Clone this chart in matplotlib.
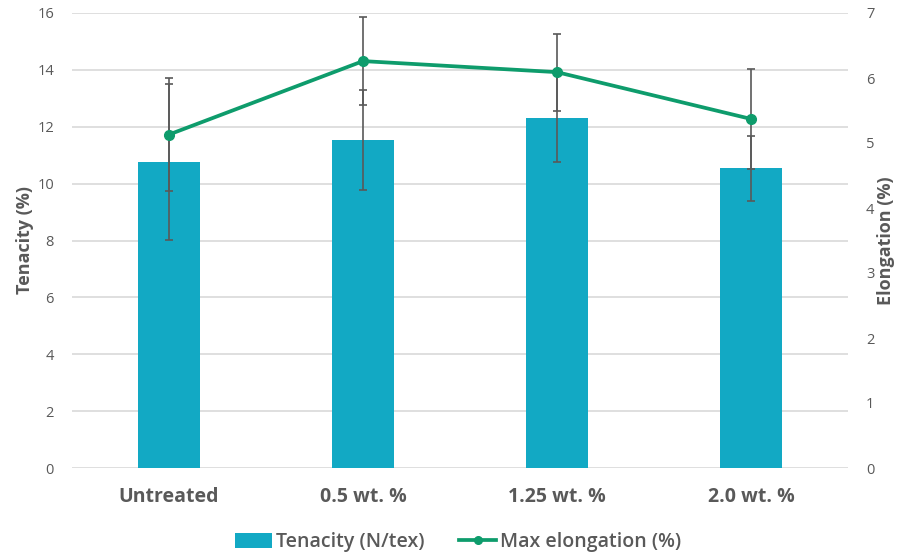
import matplotlib
matplotlib.use("Agg")
import matplotlib.pyplot as plt
from matplotlib.patches import Patch
from matplotlib.lines import Line2D

categories = ["Untreated", "0.5 wt. %", "1.25 wt. %", "2.0 wt. %"]
tenacity = [10.76, 11.54, 12.30, 10.54]
tenacity_err = [2.74, 1.75, 1.54, 1.14]
elongation = [5.13, 6.26, 6.09, 5.37]
elongation_err = [0.87, 0.68, 0.59, 0.77]

plt.rcParams['font.family'] = ['Open Sans', 'DejaVu Sans']

BAR = "#12A9C4"
LINE = "#0E9C6C"
GRAY = "#595959"

fig = plt.figure(figsize=(9.11, 5.53), dpi=100)
ax = fig.add_axes([72/911, 85/553, 776/911, 455/553])
ax2 = ax.twinx()

x = list(range(len(categories)))
ax.bar(x, tenacity, width=0.315, color=BAR, zorder=2)
ax.errorbar(x, tenacity, yerr=tenacity_err, fmt='none', ecolor=GRAY,
            elinewidth=1.2, capsize=3, capthick=1.2, zorder=3)

ax2.errorbar(x, elongation, yerr=elongation_err, fmt='none', ecolor=GRAY,
             elinewidth=1.2, capsize=3, capthick=1.2, zorder=3)
ax2.plot(x, elongation, color=LINE, lw=2.7, marker='o', ms=7, zorder=4)

ax.set_xlim(-0.5, len(categories) - 0.5)
ax.set_ylim(0, 16)
ax.set_yticks(range(0, 17, 2))
ax2.set_ylim(0, 7)
ax2.set_yticks(range(0, 8))

ax.grid(axis='y', color='#D9D9D9', lw=1.2, zorder=0)
ax.set_axisbelow(True)
for a in (ax, ax2):
    for s in a.spines.values():
        s.set_visible(False)
    a.tick_params(axis='y', length=0, colors=GRAY, labelsize=10.5)
ax.tick_params(axis='y', pad=13)
ax2.tick_params(axis='y', pad=13)
ax.set_xticks(x)
ax.set_xticklabels(categories, fontsize=14, fontweight='bold', color=GRAY)
ax.tick_params(axis='x', length=0, pad=14)

ax.set_ylabel("Tenacity (%)", fontsize=13, fontweight='bold', color=GRAY, labelpad=2)
ax2.set_ylabel("Elongation (%)", fontsize=13, fontweight='bold', color=GRAY, labelpad=2)

handles = [Patch(facecolor=BAR, edgecolor='none'),
           Line2D([0], [0], color=LINE, lw=2.7, marker='o', ms=5.5)]
fig.legend(handles, ["Tenacity (N/tex)", "Max elongation (%)"], loc='center',
           bbox_to_anchor=(458/911, 1 - 542/553), ncol=2, frameon=False,
           prop={'size': 14, 'weight': 'semibold'}, labelcolor=GRAY,
           handlelength=1.9, handleheight=0.8, handletextpad=0.2,
           columnspacing=1.8)

fig.savefig("out.png", dpi=100)
